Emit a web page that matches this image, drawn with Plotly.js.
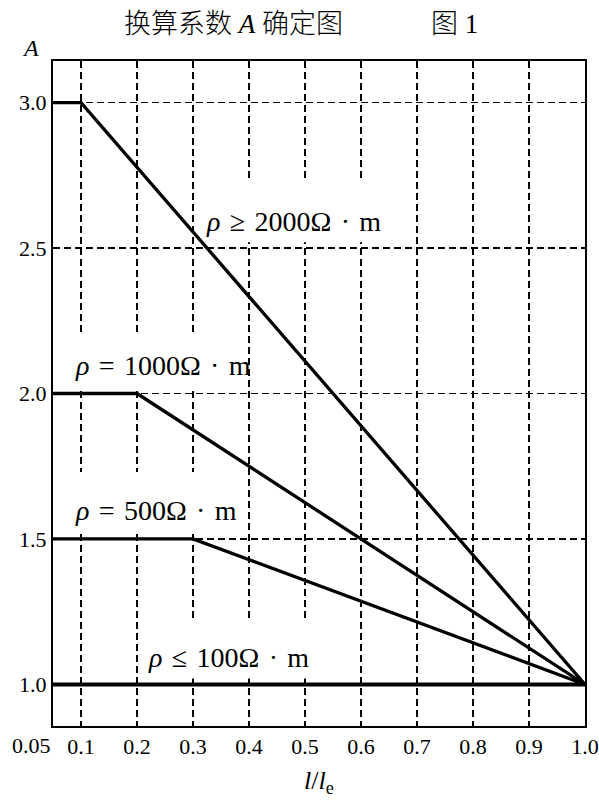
<!DOCTYPE html>
<html>
<head>
<meta charset="utf-8">
<script src="https://cdn.plot.ly/plotly-3.0.1.min.js"></script>
<style>html,body{margin:0;padding:0;background:#fff;}#chart{width:599px;height:800px;}</style>
</head>
<body>
<div id="chart"></div>
<script>
// ---- data ----
const rho2000X = [0.05, 0.1, 1.0];
const rho2000Y = [3.0, 3.0, 1.0];
const rho1000X = [0.05, 0.2, 1.0];
const rho1000Y = [2.0, 2.0, 1.0];
const rho500X = [0.05, 0.3, 1.0];
const rho500Y = [1.5, 1.5, 1.0];
const rho100X = [0.05, 1.0];
const rho100Y = [1.0, 1.0];

const seriesLabels = [
  '<i>ρ</i> ≥ 2000Ω · m',
  '<i>ρ</i> = 1000Ω · m',
  '<i>ρ</i> = 500Ω · m',
  '<i>ρ</i> ≤ 100Ω · m'
];

const xTickVals = [0.05, 0.1, 0.2, 0.3, 0.4, 0.5, 0.6, 0.7, 0.8, 0.9, 1.0];
const xTickText = ['0.05', '0.1', '0.2', '0.3', '0.4', '0.5', '0.6', '0.7', '0.8', '0.9', '1.0'];
const yTickVals = [1.0, 1.5, 2.0, 2.5, 3.0];
const yTickText = ['1.0', '1.5', '2.0', '2.5', '3.0'];

const titleMain = '换算系数 <i>A</i> 确定图';
const titleFig = '图 1';
const yTitle = '<i>A</i>';
const xTitle = '<i>l</i>/<i>l</i><sub>e</sub>';

// ---- drawing ----
const SERIF = 'Liberation Serif';
const CJK = 'Liberation Serif, Noto Sans CJK SC';
const font = (size, fam) => ({family: fam || SERIF, size: size, color: '#000'});
const line = (w) => ({color: '#000', width: w});

const traces = [
  {x: rho2000X, y: rho2000Y, mode: 'lines', line: line(3.3), hoverinfo: 'skip'},
  {x: rho1000X, y: rho1000Y, mode: 'lines', line: line(3.3), hoverinfo: 'skip'},
  {x: rho500X, y: rho500Y, mode: 'lines', line: line(3.3), hoverinfo: 'skip'},
  {x: rho100X, y: rho100Y, mode: 'lines', line: line(4), hoverinfo: 'skip'}
];

const labelPos = [
  {x: 0.320, y: 2.593},
  {x: 0.085, y: 2.095},
  {x: 0.085, y: 1.598},
  {x: 0.216, y: 1.092}
];

const annotations = seriesLabels.map((t, i) => ({
  text: t.replace(/ /g, ' \u200A'), x: labelPos[i].x, y: labelPos[i].y, xref: 'x', yref: 'y',
  xanchor: 'left', yanchor: 'middle', showarrow: false,
  font: font(28)
}));

// first x tick label (at the left border) drawn left of its tick
annotations.push({
  text: xTickText[0], x: xTickVals[0], xref: 'x', y: -0.029, yref: 'paper',
  xanchor: 'right', yanchor: 'middle', showarrow: false,
  font: font(22)
});
annotations.push({
  text: yTitle, x: -0.042, xref: 'paper', y: 1.019, yref: 'paper',
  xanchor: 'center', yanchor: 'middle', showarrow: false,
  font: font(24)
});
annotations.push({
  text: titleFig, x: 0.754, xref: 'paper', y: 1.0556, yref: 'paper',
  xanchor: 'center', yanchor: 'middle', showarrow: false,
  font: Object.assign(font(27, CJK), {weight: 300})
});

// white patches breaking the grid behind the labels
const gap = (x0, x1, y0, y1) => ({
  type: 'rect', xref: 'x', yref: 'y', x0, x1, y0, y1,
  fillcolor: '#fff', line: {width: 0}, layer: 'between'
});

const layout = {
  width: 599, height: 800,
  margin: {l: 53, r: 14, t: 61, b: 74},
  paper_bgcolor: '#fff', plot_bgcolor: '#fff',
  showlegend: false,
  font: font(22),
  title: {
    text: titleMain, xref: 'container', x: 0.39, xanchor: 'center',
    yref: 'container', y: 0.97, yanchor: 'middle',
    font: Object.assign(font(27, CJK), {weight: 300})
  },
  xaxis: {
    range: [0.05, 1.0], tickmode: 'array', tickvals: xTickVals.slice(1), ticktext: xTickText.slice(1),
    showgrid: true, gridcolor: '#000', gridwidth: 1.6, griddash: '7px,4px',
    showline: true, linecolor: '#000', linewidth: 2, mirror: true,
    ticks: '', zeroline: false,
    tickfont: font(22),
    title: {text: xTitle, font: font(26), standoff: 12}
  },
  yaxis: {
    range: [0.857, 3.143], tickmode: 'array', tickvals: yTickVals, ticktext: yTickText,
    showgrid: true, gridcolor: '#000', gridwidth: 1.6, griddash: '7px,4px',
    showline: true, linecolor: '#000', linewidth: 2, mirror: true,
    ticks: '', zeroline: false,
    tickfont: font(22)
  },
  shapes: [
    gap(0.37, 0.63, 2.52, 2.73),
    gap(0.07, 0.33, 2.02, 2.20),
    gap(0.07, 0.33, 1.52, 1.73),
    gap(0.27, 0.53, 1.02, 1.22)
  ],
  annotations: annotations
};

Plotly.newPlot('chart', traces, layout, {displayModeBar: false, staticPlot: true});
</script>
</body>
</html>
